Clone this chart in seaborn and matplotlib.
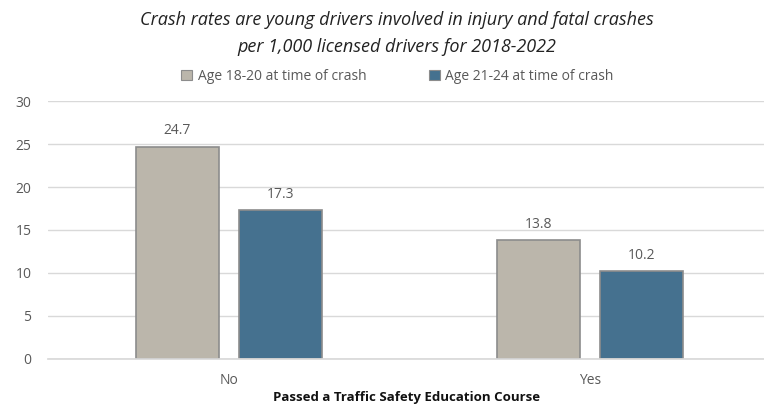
import matplotlib
matplotlib.use("Agg")
import matplotlib.pyplot as plt
import seaborn as sns
import pandas as pd
from matplotlib.patches import Patch

categories = ["No", "Yes"]
series_names = ["Age 18-20 at time of crash", "Age 21-24 at time of crash"]
age_18_20 = [24.7, 13.8]
age_21_24 = [17.3, 10.2]
colors = ["#BBB6AB", "#45718F"]

df = pd.DataFrame({
    "course": categories * 2,
    "group": [series_names[0]] * 2 + [series_names[1]] * 2,
    "rate": age_18_20 + age_21_24,
})

sns.set_theme(style="white")
plt.rcParams["font.family"] = ["Open Sans", "DejaVu Sans"]

fig = plt.figure(figsize=(7.64, 4.05), dpi=100)
ax = fig.add_axes([0.063, 0.1136, 0.937, 0.637])

sns.barplot(data=df, x="course", y="rate", hue="group", order=categories,
            hue_order=series_names, palette=colors, width=0.57, gap=0.2,
            edgecolor="#8C8C8C", linewidth=1.2, saturation=1, legend=False, ax=ax)

for cont in ax.containers:
    ax.bar_label(cont, fmt="%.1f", padding=6, fontsize=10, color="#595959")

ax.set_ylim(0, 30)
ax.set_xlim(-0.501, 1.482)
ax.set_yticks(range(0, 31, 5))
ax.yaxis.grid(True, color="#D9D9D9", linewidth=1)
ax.set_axisbelow(True)
for s in ["top", "right", "left"]:
    ax.spines[s].set_visible(False)
ax.spines["bottom"].set_color("#D9D9D9")
ax.tick_params(axis="y", length=0, pad=12, labelsize=10, labelcolor="#595959")
ax.tick_params(axis="x", length=0, pad=10, labelsize=10, labelcolor="#595959")
ax.set_ylabel("")
ax.set_xlabel("Passed a Traffic Safety Education Course", fontsize=9.5,
              fontweight="bold", color="#111111", labelpad=2)

fig.text(0.52, 0.95, "Crash rates are young drivers involved in injury and fatal crashes",
         ha="center", va="center", fontsize=13, style="italic", color="#222222")
fig.text(0.52, 0.885, "per 1,000 licensed drivers for 2018-2022",
         ha="center", va="center", fontsize=13, style="italic", color="#222222")

handles = [Patch(facecolor=c, edgecolor="#8C8C8C", linewidth=0.8) for c in colors]
fig.legend(handles, series_names, loc="center", bbox_to_anchor=(0.52, 0.812),
           ncol=2, frameon=False, fontsize=10, labelcolor="#595959",
           handlelength=0.8, handleheight=0.8, handletextpad=0.4, columnspacing=4.5)

fig.savefig("out.png", dpi=100)
